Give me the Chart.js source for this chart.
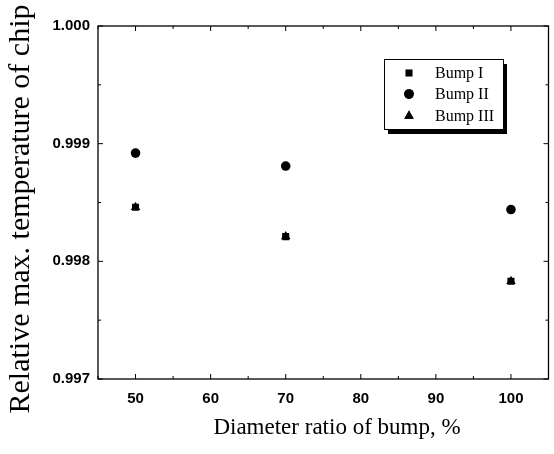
<!DOCTYPE html>
<html>
<head>
<meta charset="utf-8">
<script src="https://cdn.jsdelivr.net/npm/chart.js@4/dist/chart.umd.min.js"></script>
<style>
  html, body { margin: 0; padding: 0; background: #fff; }
  #wrap { width: 554px; height: 454px; }
</style>
</head>
<body>
<div id="wrap"><canvas id="chart" width="554" height="454"></canvas></div>
<script>
    // diameter ratio of bump (%)
    const ratios = [50, 70, 100]
    const bump1 = [0.99846, 0.99821, 0.99783]
    const bump2 = [0.99892, 0.99881, 0.99844]
    const bump3 = [0.99846, 0.99821, 0.99783]
    const seriesNames = ['Bump I', 'Bump II', 'Bump III']
    const yTicks = [0.997, 0.998, 0.999, 1.0]
    const xTicks = [50, 60, 70, 80, 90, 100]

    const toPoints = (vals) => ratios.map((x, i) => ({ x: x, y: vals[i] }))

    const serif = '"Liberation Serif", "Times New Roman", serif'
    const sans = '"Liberation Sans", Arial, sans-serif'

    // frame on four sides, inward major + minor ticks
    const frameTicks = {
        id: 'frameTicks',
        afterDraw(chart) {
            const { ctx, chartArea: a, scales } = chart
            const xs = scales.x, ys = scales.y
            ctx.save()
            ctx.strokeStyle = '#000'
            ctx.lineWidth = 1.3
            ctx.strokeRect(a.left, a.top, a.right - a.left, a.bottom - a.top)
            ctx.lineWidth = 1
            ctx.beginPath()
            for (let v = 45; v <= 105; v += 5) {
                const px = xs.getPixelForValue(v)
                const len = v % 10 === 0 ? 5 : 3
                ctx.moveTo(px, a.bottom); ctx.lineTo(px, a.bottom - len)
                ctx.moveTo(px, a.top); ctx.lineTo(px, a.top + len)
            }
            for (let k = 0; k <= 6; k++) {
                const v = 0.997 + k * 0.0005
                const py = ys.getPixelForValue(v)
                const len = k % 2 === 0 ? 5 : 3
                ctx.moveTo(a.left, py); ctx.lineTo(a.left + len, py)
                ctx.moveTo(a.right, py); ctx.lineTo(a.right - len, py)
            }
            ctx.stroke()

            // axis titles
            ctx.fillStyle = '#000'
            ctx.textAlign = 'center'
            ctx.textBaseline = 'middle'
            ctx.font = '23px ' + serif
            ctx.fillText('Diameter ratio of bump, %', 337, 428)
            ctx.translate(21, 209)
            ctx.rotate(-Math.PI / 2)
            ctx.font = '30px ' + serif
            ctx.fillText('Relative max. temperature of chip', 0, 0)
            ctx.restore()

            // legend box with shadow
            const lx = 384, ly = 59, lw = 119, lh = 70
            ctx.save()
            ctx.fillStyle = '#000'
            ctx.fillRect(lx + 4, ly + 5, lw, lh)
            ctx.fillStyle = '#fff'
            ctx.fillRect(lx, ly, lw, lh)
            ctx.strokeStyle = '#000'
            ctx.lineWidth = 1
            ctx.strokeRect(lx + 0.5, ly + 0.5, lw, lh)
            ctx.font = '16px ' + serif
            ctx.textAlign = 'left'
            ctx.textBaseline = 'middle'
            const rowsY = [73, 94, 116]
            chart.data.datasets.forEach((ds, i) => {
                Chart.helpers.drawPoint(ctx, {
                    pointStyle: ds.pointStyle, radius: ds.pointRadius, borderWidth: 0, rotation: 0
                }, 409, rowsY[i])
                ctx.fillStyle = '#000'
                ctx.fill()
                ctx.fillText(seriesNames[i], 435, rowsY[i] + 1)
            })
            ctx.restore()
        },
    }

    const makeSet = (i, vals, style, r) => ({
        label: seriesNames[i],
        data: toPoints(vals),
        pointStyle: style,
        pointRadius: r,
        pointHoverRadius: r,
        backgroundColor: '#000',
        borderColor: '#000',
        borderWidth: 0,
        showLine: false,
    })

    new Chart(document.getElementById('chart'), {
        type: 'scatter',
        data: {
            datasets: [
                makeSet(0, bump1, 'rect', 5),
                makeSet(1, bump2, 'circle', 4.8),
                makeSet(2, bump3, 'triangle', 5.5),
            ],
        },
        options: {
            responsive: false,
            animation: false,
            layout: { padding: { top: 26, right: 2, left: 0, bottom: 0 } },
            plugins: { legend: { display: false }, tooltip: { enabled: false } },
            scales: {
                x: {
                    type: 'linear',
                    min: 45,
                    max: 105,
                    afterFit: (s) => { s.height = 75 },
                    afterBuildTicks: (s) => { s.ticks = xTicks.map((v) => ({ value: v })) },
                    grid: { display: false, drawTicks: false },
                    border: { display: false },
                    ticks: {
                        padding: 11,
                        color: '#000',
                        font: { family: sans, size: 15, weight: 'bold' },
                    },
                },
                y: {
                    type: 'linear',
                    min: 0.997,
                    max: 1.0,
                    afterFit: (s) => { s.width = 98 },
                    afterBuildTicks: (s) => { s.ticks = yTicks.map((v) => ({ value: v })) },
                    grid: { display: false, drawTicks: false },
                    border: { display: false },
                    ticks: {
                        padding: 8,
                        color: '#000',
                        font: { family: sans, size: 15, weight: 'bold' },
                        callback: (v) => v.toFixed(3),
                    },
                },
            },
        },
        plugins: [frameTicks],
    })
</script>
</body>
</html>
